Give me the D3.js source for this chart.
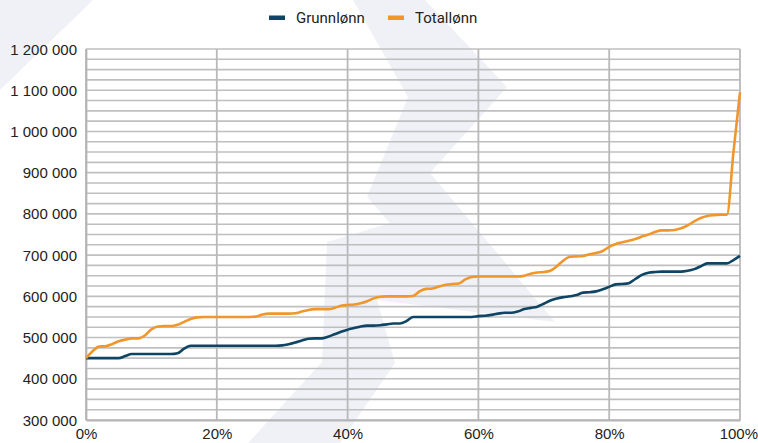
<!DOCTYPE html>
<html>
<head>
<meta charset="utf-8">
<script src="https://cdn.jsdelivr.net/npm/d3@7"></script>
<style>
  body { margin: 0; background: #fff; }
  svg { display: block; font-family: Roboto, "Noto Sans", sans-serif; }
</style>
</head>
<body>
<script>
// lønnsfordeling: grunnlønn vs totallønn per persentil
var pct = [];
for (var p = 0; p <= 100; p++) pct.push(p);

var grunnlonn = [
  450, 450, 450, 450, 450, 450, 455, 460, 460, 460,
  460, 460, 460, 460, 462, 473, 480, 480, 480, 480,
  480, 480, 480, 480, 480, 480, 480, 480, 480, 480,
  481, 484, 488, 493, 497, 498, 498, 502, 508, 514,
  519, 523, 527, 529, 529, 530, 532, 534, 534, 540,
  550, 550, 550, 550, 550, 550, 550, 550, 550, 550,
  552, 553, 555, 558, 560, 560, 563, 569, 572, 575,
  582, 590, 595, 598, 600, 603, 609, 610, 612, 617,
  623, 629, 630, 632, 642, 652, 657, 659, 660, 660,
  660, 660, 662, 666, 673, 680, 680, 680, 680, 688,
  698
];
var totallonn = [
  450, 467, 478, 479, 484, 491, 495, 498, 498, 505,
  520, 527, 528, 528, 531, 538, 545, 549, 550, 550,
  550, 550, 550, 550, 550, 550, 551, 556, 558, 558,
  558, 558, 559, 563, 567, 569, 569, 569, 572, 577,
  579, 580, 583, 588, 595, 599, 600, 600, 600, 600,
  601, 612, 618, 619, 624, 628, 630, 631, 641, 647,
  648, 648, 648, 648, 648, 648, 648, 650, 655, 658,
  659, 662, 673, 687, 696, 697, 698, 702, 705, 710,
  720, 727, 731, 735, 739, 745, 750, 756, 760, 760,
  761, 765, 772, 782, 790, 795, 797, 798, 798, 950,
  1095
];
var seriesNames = ["Grunnlønn", "Totallønn"];
var seriesColors = ["#0f4564", "#f0962a"];
var yTicks = [300000, 400000, 500000, 600000, 700000, 800000, 900000, 1000000, 1100000, 1200000];
var xTicks = [0, 20, 40, 60, 80, 100];

var width = 758, height = 443;
var margin = {top: 49, right: 18, bottom: 23, left: 86};

var svg = d3.select("body").append("svg")
    .attr("width", width)
    .attr("height", height);

// watermark logo in the background
var wm = "#eff1f6";
svg.append("polygon")
    .attr("points", "0,0 93,0 0,90")
    .attr("fill", wm);
svg.append("polygon")
    .attr("points", "353,0 425,0 507,87 430,173 555,322 377,300 395,363 340,443 248,443 322,362 327,242 390,223 367,197 408,97")
    .attr("fill", wm);

var x = d3.scaleLinear().domain([0, 100]).range([margin.left, width - margin.right]);
var y = d3.scaleLinear().domain([300000, 1200000]).range([height - margin.bottom, margin.top]);

var nb = d3.formatLocale({decimal: ",", thousands: " ", grouping: [3], currency: ["", ""]});
var fmt = nb.format(",d");

// horizontal grid every 25 000
var gridVals = d3.range(300000, 1200001, 25000);
svg.append("g").selectAll("line")
    .data(gridVals)
    .enter().append("line")
    .attr("x1", x(0)).attr("x2", x(100))
    .attr("y1", function(d) { return y(d); })
    .attr("y2", function(d) { return y(d); })
    .attr("stroke", "#bfbfbf")
    .attr("stroke-width", 1.6);

// vertical grid
svg.append("g").selectAll("line")
    .data(xTicks)
    .enter().append("line")
    .attr("x1", function(d) { return x(d); })
    .attr("x2", function(d) { return x(d); })
    .attr("y1", y(1200000)).attr("y2", y(300000))
    .attr("stroke", "#b9b9b9")
    .attr("stroke-width", 1.8);

// axes (labels only, no tick marks)
var yAxis = svg.append("g")
    .attr("transform", "translate(" + margin.left + ",0)")
    .call(d3.axisLeft(y).tickValues(yTicks).tickFormat(fmt).tickSize(0).tickPadding(9));
var xAxis = svg.append("g")
    .attr("transform", "translate(0," + (height - margin.bottom) + ")")
    .call(d3.axisBottom(x).tickValues(xTicks).tickFormat(function(d) { return d + "%"; }).tickSize(0).tickPadding(8));
[yAxis, xAxis].forEach(function(a) {
    a.select(".domain").attr("stroke", "#b5b5b5").attr("stroke-width", 1.8);
    a.selectAll("text").attr("fill", "#222").style("font-size", "15px");
});
yAxis.selectAll("text").attr("dy", "0.34em");
// keep the last label inside the frame
xAxis.selectAll(".tick").filter(function(d) { return d === 100; })
    .select("text").attr("text-anchor", "end").attr("x", 17.5);

var line = d3.line()
    .x(function(d, i) { return x(pct[i]); })
    .y(function(d) { return y(d * 1000); })
    .curve(d3.curveMonotoneX);

[grunnlonn, totallonn].forEach(function(vals, i) {
    svg.append("path")
        .datum(vals)
        .attr("d", line)
        .attr("fill", "none")
        .attr("stroke", seriesColors[i])
        .attr("stroke-width", 2.6)
        .attr("stroke-linejoin", "round");
});

// legend
var legX = [269, 388];
seriesNames.forEach(function(name, i) {
    svg.append("rect")
        .attr("x", legX[i]).attr("y", 15.5)
        .attr("width", 16).attr("height", 4.5)
        .attr("fill", seriesColors[i]);
    svg.append("text")
        .attr("x", legX[i] + 27).attr("y", 23)
        .attr("fill", "#222")
        .style("font-size", "15px")
        .text(name);
});
</script>
</body>
</html>
